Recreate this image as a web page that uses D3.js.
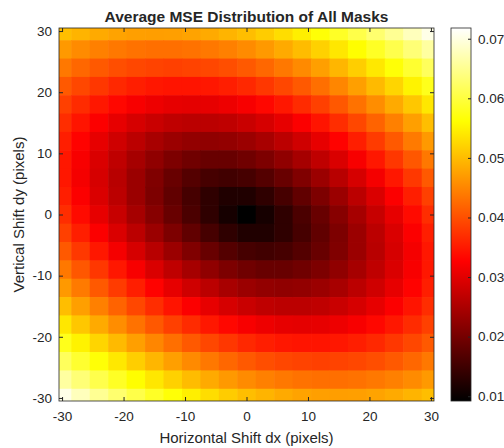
<!DOCTYPE html>
<meta charset="utf-8">
<style>
body { margin: 0; background: #fff; }
text { font-family: Arial, "Liberation Sans", Helvetica, sans-serif; fill: #262626; }
</style>
<div id="chart"></div>
<script src="https://d3js.org/d3.v7.min.js"></script>
<script>

// shift grid (pixels), read every 3 px off the picture
var dxSteps = [-30,-27,-24,-21,-18,-15,-12,-9,-6,-3,0,3,6,9,12,15,18,21,24,27,30];
var dySteps = [30,27,24,21,18,15,12,9,6,3,0,-3,-6,-9,-12,-15,-18,-21,-24,-27,-30];

// average MSE, one row per dy (top row dy = 30), columns follow dxSteps
var mseRows = [
  [0.0502,0.0492,0.0483,0.0477,0.0473,0.0472,0.0473,0.0477,0.0483,0.0492,0.0502,0.0515,0.0530,0.0547,0.0565,0.0585,0.0606,0.0629,0.0652,0.0677,0.0703],
  [0.0468,0.0455,0.0445,0.0437,0.0432,0.0429,0.0429,0.0432,0.0437,0.0445,0.0455,0.0468,0.0483,0.0500,0.0519,0.0539,0.0561,0.0584,0.0608,0.0634,0.0660],
  [0.0437,0.0422,0.0409,0.0399,0.0392,0.0388,0.0386,0.0388,0.0392,0.0399,0.0409,0.0422,0.0437,0.0454,0.0473,0.0494,0.0516,0.0540,0.0565,0.0591,0.0618],
  [0.0409,0.0392,0.0377,0.0364,0.0354,0.0348,0.0345,0.0345,0.0348,0.0354,0.0364,0.0377,0.0392,0.0409,0.0429,0.0450,0.0473,0.0498,0.0523,0.0550,0.0578],
  [0.0386,0.0366,0.0348,0.0333,0.0320,0.0311,0.0305,0.0303,0.0305,0.0311,0.0320,0.0333,0.0348,0.0366,0.0386,0.0408,0.0432,0.0457,0.0483,0.0510,0.0539],
  [0.0368,0.0345,0.0324,0.0305,0.0289,0.0277,0.0268,0.0264,0.0264,0.0268,0.0277,0.0289,0.0305,0.0324,0.0345,0.0368,0.0392,0.0418,0.0445,0.0473,0.0502],
  [0.0354,0.0329,0.0305,0.0283,0.0264,0.0247,0.0235,0.0227,0.0225,0.0227,0.0235,0.0247,0.0264,0.0283,0.0305,0.0329,0.0354,0.0381,0.0409,0.0439,0.0468],
  [0.0348,0.0320,0.0293,0.0268,0.0245,0.0225,0.0207,0.0195,0.0188,0.0188,0.0195,0.0207,0.0225,0.0245,0.0268,0.0293,0.0320,0.0348,0.0377,0.0407,0.0437],
  [0.0348,0.0318,0.0289,0.0261,0.0235,0.0210,0.0188,0.0169,0.0156,0.0152,0.0156,0.0169,0.0188,0.0210,0.0235,0.0261,0.0289,0.0318,0.0348,0.0378,0.0409],
  [0.0354,0.0324,0.0293,0.0264,0.0235,0.0207,0.0181,0.0156,0.0135,0.0121,0.0121,0.0135,0.0156,0.0181,0.0207,0.0235,0.0264,0.0293,0.0324,0.0354,0.0386],
  [0.0368,0.0336,0.0305,0.0275,0.0245,0.0216,0.0188,0.0161,0.0135,0.0112,0.0092,0.0112,0.0135,0.0161,0.0188,0.0216,0.0245,0.0275,0.0305,0.0336,0.0368],
  [0.0386,0.0354,0.0324,0.0293,0.0264,0.0235,0.0207,0.0181,0.0156,0.0135,0.0121,0.0121,0.0135,0.0156,0.0181,0.0207,0.0235,0.0264,0.0293,0.0324,0.0354],
  [0.0409,0.0378,0.0348,0.0318,0.0289,0.0261,0.0235,0.0210,0.0188,0.0169,0.0156,0.0152,0.0156,0.0169,0.0188,0.0210,0.0235,0.0261,0.0289,0.0318,0.0348],
  [0.0437,0.0407,0.0377,0.0348,0.0320,0.0293,0.0268,0.0245,0.0225,0.0207,0.0195,0.0188,0.0188,0.0195,0.0207,0.0225,0.0245,0.0268,0.0293,0.0320,0.0348],
  [0.0468,0.0439,0.0409,0.0381,0.0354,0.0329,0.0305,0.0283,0.0264,0.0247,0.0235,0.0227,0.0225,0.0227,0.0235,0.0247,0.0264,0.0283,0.0305,0.0329,0.0354],
  [0.0502,0.0473,0.0445,0.0418,0.0392,0.0368,0.0345,0.0324,0.0305,0.0289,0.0277,0.0268,0.0264,0.0264,0.0268,0.0277,0.0289,0.0305,0.0324,0.0345,0.0368],
  [0.0539,0.0510,0.0483,0.0457,0.0432,0.0408,0.0386,0.0366,0.0348,0.0333,0.0320,0.0311,0.0305,0.0303,0.0305,0.0311,0.0320,0.0333,0.0348,0.0366,0.0386],
  [0.0578,0.0550,0.0523,0.0498,0.0473,0.0450,0.0429,0.0409,0.0392,0.0377,0.0364,0.0354,0.0348,0.0345,0.0345,0.0348,0.0354,0.0364,0.0377,0.0392,0.0409],
  [0.0618,0.0591,0.0565,0.0540,0.0516,0.0494,0.0473,0.0454,0.0437,0.0422,0.0409,0.0399,0.0392,0.0388,0.0386,0.0388,0.0392,0.0399,0.0409,0.0422,0.0437],
  [0.0660,0.0634,0.0608,0.0584,0.0561,0.0539,0.0519,0.0500,0.0483,0.0468,0.0455,0.0445,0.0437,0.0432,0.0429,0.0429,0.0432,0.0437,0.0445,0.0455,0.0468],
  [0.0703,0.0677,0.0652,0.0629,0.0606,0.0585,0.0565,0.0547,0.0530,0.0515,0.0502,0.0492,0.0483,0.0477,0.0473,0.0472,0.0473,0.0477,0.0483,0.0492,0.0502]
];

var axisTicks = [-30, -20, -10, 0, 10, 20, 30];
var colorTicks = [0.01, 0.02, 0.03, 0.04, 0.05, 0.06, 0.07];
var colorLimits = [0.0092, 0.0718];

var svg = d3.select("#chart").append("svg")
    .attr("width", 504)
    .attr("height", 448);

var pLeft = 59, pRight = 434, pTop = 28, pBottom = 401;
var step = 3;

var x = d3.scaleLinear().domain([-30.5, 30.5]).range([pLeft, pRight]);
var y = d3.scaleLinear().domain([-30.5, 30.5]).range([pBottom, pTop]);

// matlab "hot": black -> red -> yellow -> white
var lo = colorLimits[0], hi = colorLimits[1];
var hot = d3.scaleLinear()
    .domain([lo, lo + 0.375 * (hi - lo), lo + 0.75 * (hi - lo), hi])
    .range(["#000000", "#ff0000", "#ffff00", "#ffffff"])
    .clamp(true);

svg.append("clipPath").attr("id", "plotClip")
  .append("rect")
    .attr("x", pLeft).attr("y", pTop)
    .attr("width", pRight - pLeft).attr("height", pBottom - pTop);

var cells = [];
mseRows.forEach(function(row, r) {
  row.forEach(function(v, c) {
    cells.push({dx: dxSteps[c], dy: dySteps[r], mse: v});
  });
});

svg.append("g")
    .attr("clip-path", "url(#plotClip)")
  .selectAll("rect")
  .data(cells)
  .enter().append("rect")
    .attr("x", function(d) { return x(d.dx - step / 2); })
    .attr("y", function(d) { return y(d.dy + step / 2); })
    .attr("width", function(d) { return x(d.dx + step / 2) - x(d.dx - step / 2) + 0.6; })
    .attr("height", function(d) { return y(d.dy - step / 2) - y(d.dy + step / 2) + 0.6; })
    .attr("fill", function(d) { return hot(d.mse); });

function styleAxis(g, size) {
  g.select(".domain").remove();
  g.selectAll("line").attr("stroke", "#262626");
  g.selectAll("text").attr("font-size", size).attr("fill", "#262626");
  g.attr("font-family", null);
}

var plain = function(d) { return String(d); };

svg.append("g")
    .attr("transform", "translate(0," + pBottom + ")")
    .call(d3.axisBottom(x).tickValues(axisTicks).tickSizeInner(-4).tickSizeOuter(0).tickPadding(10).tickFormat(plain))
    .call(styleAxis, 13.5);

svg.append("g")
    .attr("transform", "translate(0," + pTop + ")")
    .call(d3.axisTop(x).tickValues(axisTicks).tickSizeInner(-4).tickSizeOuter(0).tickFormat(""))
    .call(styleAxis, 13.5);

svg.append("g")
    .attr("transform", "translate(" + pLeft + ",0)")
    .call(d3.axisLeft(y).tickValues(axisTicks).tickSizeInner(-4).tickSizeOuter(0).tickPadding(7).tickFormat(plain))
    .call(styleAxis, 13.5);

svg.append("g")
    .attr("transform", "translate(" + pRight + ",0)")
    .call(d3.axisRight(y).tickValues(axisTicks).tickSizeInner(-4).tickSizeOuter(0).tickFormat(""))
    .call(styleAxis, 13.5);

svg.append("rect")
    .attr("x", pLeft).attr("y", pTop)
    .attr("width", pRight - pLeft).attr("height", pBottom - pTop)
    .attr("fill", "none")
    .attr("stroke", "#262626")
    .attr("stroke-width", 0.8);

// colorbar
var cbLeft = 451, cbWidth = 20;
var cScale = d3.scaleLinear().domain(colorLimits).range([pBottom, pTop]);

var grad = svg.append("defs").append("linearGradient")
    .attr("id", "hotGrad")
    .attr("x1", 0).attr("y1", 1).attr("x2", 0).attr("y2", 0);
grad.selectAll("stop")
  .data(hot.domain())
  .enter().append("stop")
    .attr("offset", function(d) { return (d - lo) / (hi - lo); })
    .attr("stop-color", function(d) { return hot(d); });

svg.append("rect")
    .attr("x", cbLeft).attr("y", pTop)
    .attr("width", cbWidth).attr("height", pBottom - pTop)
    .attr("fill", "url(#hotGrad)");

svg.append("g")
    .attr("transform", "translate(" + (cbLeft + cbWidth) + ",0)")
    .call(d3.axisRight(cScale).tickValues(colorTicks).tickSizeInner(-3).tickSizeOuter(0).tickPadding(7).tickFormat(d3.format(".2f")))
    .call(styleAxis, 13.5);

svg.append("rect")
    .attr("x", cbLeft).attr("y", pTop)
    .attr("width", cbWidth).attr("height", pBottom - pTop)
    .attr("fill", "none")
    .attr("stroke", "#262626")
    .attr("stroke-width", 0.8);

// titles
svg.append("text")
    .attr("x", (pLeft + pRight) / 2)
    .attr("y", 22)
    .attr("text-anchor", "middle")
    .attr("font-weight", "bold")
    .attr("font-size", 15.5)
    .text("Average MSE Distribution of All Masks");

svg.append("text")
    .attr("x", (pLeft + pRight) / 2)
    .attr("y", 443)
    .attr("text-anchor", "middle")
    .attr("font-size", 15)
    .text("Horizontal Shift dx (pixels)");

svg.append("text")
    .attr("transform", "translate(23.5," + ((pTop + pBottom) / 2) + ") rotate(-90)")
    .attr("text-anchor", "middle")
    .attr("font-size", 15)
    .text("Vertical Shift dy (pixels)");

</script>
